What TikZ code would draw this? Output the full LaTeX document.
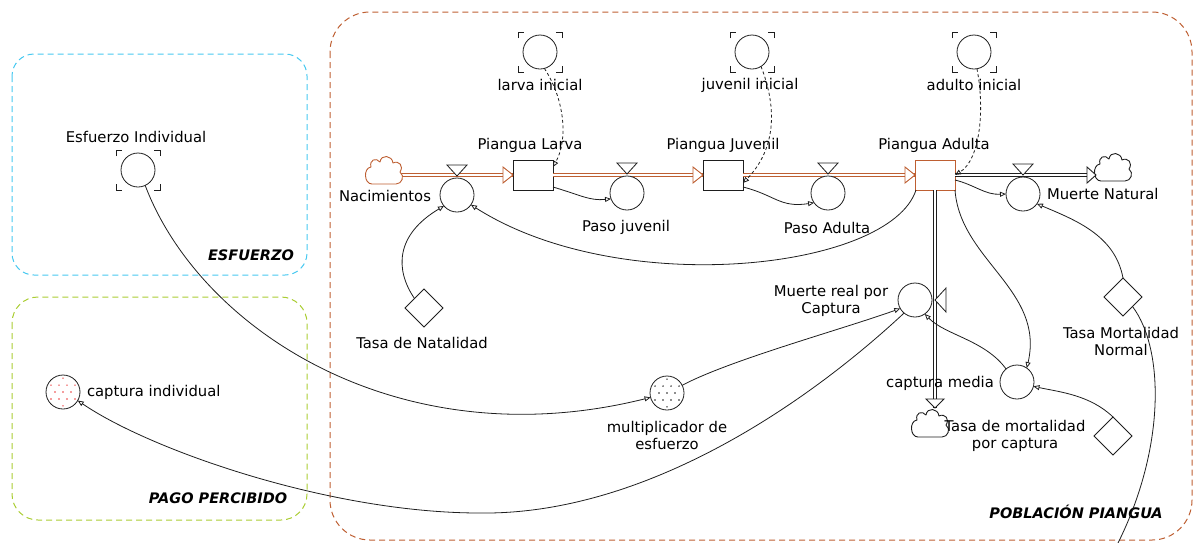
\documentclass[tikz,border=0pt]{standalone}
\usepackage{fontspec}
\setmainfont{DejaVu Sans}
\usetikzlibrary{arrows.meta,shapes.geometric,calc}
\definecolor{pipebrown}{RGB}{190,95,50}
\definecolor{groupcyan}{RGB}{70,200,240}
\definecolor{groupgreen}{RGB}{170,205,50}
\definecolor{dotred}{RGB}{235,60,60}
\definecolor{linegray}{RGB}{30,30,30}

% corner marks around a ghost variable
\newcommand\ghostmarks[1]{%
  \foreach \sx/\sy in {-1/-1,1/-1,-1/1,1/1}{%
    \draw[ghostmark] ($(#1)+(\sx*22,\sy*14)$) -- ($(#1)+(\sx*22,\sy*20)$) -- ($(#1)+(\sx*16,\sy*20)$);
  }}
% dotted fill inside a converter circle
\newcommand\speckle[3]{%
  \begin{scope}
    \clip (#1) circle (15);
    \foreach \i in {-4,...,4}{\foreach \j in {-3,...,3}{%
      \fill[#2] ($(#1)+(\i*#3+\j*#3/2,\j*#3*0.87)$) circle (0.8);
    }}
  \end{scope}}
% outline of a source/sink cloud around a named node
\newcommand\cloudoutline[2]{%
  \draw[#2, shift={(#1)}, line width=0.9pt, fill=white, line join=round]
    (-12,13) -- (12,13)
    .. controls (18,13) and (21,5) .. (16,1)
    .. controls (20,-5) and (15,-11) .. (9,-8)
    .. controls (8,-16) and (-3,-17) .. (-4,-9)
    .. controls (-8,-14) and (-15,-11) .. (-13,-4)
    .. controls (-21,-3) and (-20,13) .. (-12,13) -- cycle;}

\begin{document}
\begin{tikzpicture}[x=1pt,y=-1pt,
  font=\fontsize{14.8}{17}\selectfont,
  every node/.style={inner sep=0pt, outer sep=0pt},
  conv/.style={circle, draw=linegray, line width=0.8pt, minimum size=34pt, fill=white},
  stockbox/.style={rectangle, draw=linegray, line width=0.9pt, minimum width=40pt, minimum height=30pt, fill=white},
  param/.style={diamond, draw=linegray, line width=0.8pt, aspect=1, minimum width=38pt, minimum height=38pt, fill=white},
  cloudspot/.style={rectangle, minimum width=38pt, minimum height=28pt},
  pipe/.style={draw=#1, double=white, double distance=2.6pt, line width=0.9pt},
  flowhead/.style={draw=#1, fill=white, line width=0.9pt, line join=miter},
  valvetri/.style={draw=linegray, fill=white, line width=0.8pt},
  link/.style={draw=linegray, line width=0.8pt, -{Triangle[open, length=6pt, width=5pt]}},
  initlink/.style={link, dash pattern=on 3pt off 2.5pt},
  ghostmark/.style={draw=linegray, line width=0.9pt},
  group/.style={rounded corners=#1, dash pattern=on 6pt off 4pt, line width=1pt},
  grouplabel/.style={font=\fontsize{14.5}{17}\selectfont\bfseries\itshape},
  lbl/.style={align=center}
]
\useasboundingbox (0,0) rectangle (1198,542);

% sectors
\draw[group=22pt, draw=groupcyan] (12,54) rectangle (307,275);
\draw[group=26pt, draw=groupgreen] (12,297) rectangle (307,520);
\draw[group=40pt, draw=pipebrown] (330,12) rectangle (1192,540);
\node[grouplabel] (gEsf) at (251,255) {ESFUERZO};
\node[grouplabel] (gPago) at (218,498) {PAGO PERCIBIDO};
\node[grouplabel] (gPob) at (1076,512) {POBLACIÓN PIANGUA};

% stocks
\node[stockbox] (larva) at (533,175) {};
\node[stockbox] (juvenil) at (723,175) {};
\node[stockbox, draw=pipebrown] (adulta) at (935,175) {};

% sources and sinks
\node[cloudspot] (srcNac) at (384,171) {};
\node[cloudspot] (sinkNat) at (1113,168) {};
\node[cloudspot] (sinkCap) at (930,424) {};

% flows
\draw[pipe=pipebrown] ($(srcNac.east |- larva.west)+(-3,0)$) -- (larva.west);
\draw[flowhead=pipebrown] (larva.west) -- ++(-10,-8) -- ++(0,16) -- cycle;
\draw[pipe=pipebrown] (larva.east) -- (juvenil.west);
\draw[flowhead=pipebrown] (juvenil.west) -- ++(-10,-8) -- ++(0,16) -- cycle;
\draw[pipe=pipebrown] (juvenil.east) -- (adulta.west);
\draw[flowhead=pipebrown] (adulta.west) -- ++(-10,-8) -- ++(0,16) -- cycle;
\draw[pipe=linegray] (adulta.east) -- ($(sinkNat.west |- adulta.east)+(2,0)$);
\draw[pipe=linegray] (adulta.south) -- ($(adulta.south |- sinkCap.north)+(0,-2)$);
\cloudoutline{srcNac}{draw=pipebrown}
\cloudoutline{sinkNat}{draw=linegray}
\cloudoutline{sinkCap}{draw=linegray}
\draw[flowhead=linegray] ($(sinkNat.west |- adulta.east)+(2,0)$) -- ++(-9,-8) -- ++(0,16) -- cycle;
\draw[flowhead=linegray] ($(adulta.south |- sinkCap.north)+(0,-2)$) -- ++(-9,-9) -- ++(18,0) -- cycle;

% valves
\node[conv] (nac) at (457,195) {};
\node[conv] (pjuv) at (627,193) {};
\node[conv] (padu) at (828,193) {};
\node[conv] (mnat) at (1023,194) {};
\node[conv] (mcap) at (915,300) {};
\foreach \v in {nac,pjuv,padu,mnat}{
  \draw[valvetri] ($(\v)+(-10,-30)$) -- ($(\v)+(10,-30)$) -- ($(\v)+(0,-19)$) -- cycle;
}
\draw[valvetri] ($(mcap)+(20,0)$) -- ++(11,-12) -- ++(0,24) -- cycle;

% auxiliaries and constants
\node[conv] (cmedia) at (1017,382) {};
\node[conv] (linit) at (540,52) {};
\node[conv] (jinit) at (752,52) {};
\node[conv] (ainit) at (974,52) {};
\node[conv] (esf) at (138,170) {};
\node[conv] (capind) at (63,392) {};
\node[conv] (mult) at (667,393) {};
\node[param] (tnat) at (424,308) {};
\node[param] (tmn) at (1123,297) {};
\node[param] (tmc) at (1113,436) {};
\coordinate (tmnOut) at (1117,545);

\foreach \g in {linit,jinit,ainit,esf}{\ghostmarks{\g}}
\speckle{capind}{dotred}{8}
\speckle{mult}{linegray}{8}

% labels
\node[lbl] (tLarva) at (530,145) {Piangua Larva};
\node[lbl] (tJuv) at (723,145) {Piangua Juvenil};
\node[lbl] (tAdu) at (934,145) {Piangua Adulta};
\node[lbl] (tNac) at (385,196) {Nacimientos};
\node[lbl] (tPjuv) at (626,227) {Paso juvenil};
\node[lbl] (tPadu) at (827,228) {Paso Adulta};
\node[lbl, anchor=west] (tMnat) at (1047,194) {Muerte Natural};
\node[lbl] (tMcap) at (831,301) {Muerte real por\\Captura};
\node[lbl] (tCmedia) at (940,383) {captura media};
\node[lbl] (tTmc) at (1015,436) {Tasa de mortalidad\\por captura};
\node[lbl] (tTmn) at (1121,341) {Tasa Mortalidad\\Normal};
\node[lbl] (tTnat) at (422,343) {Tasa de Natalidad};
\node[lbl] (tLinit) at (540,85) {larva inicial};
\node[lbl] (tJinit) at (750,85) {juvenil inicial};
\node[lbl] (tAinit) at (974,85) {adulto inicial};
\node[lbl] (tEsf) at (136,137) {Esfuerzo Individual};
\node[lbl, anchor=west] (tCapind) at (87,392) {captura individual};
\node[lbl] (tMult) at (667,435) {multiplicador de\\esfuerzo};

% initial values
\draw[initlink] (linit.-75) .. controls (565,100) and (568,140) .. ($(larva.north east)+(0,7)$);
\draw[initlink] (jinit.-58) .. controls (778,110) and (775,150) .. ($(juvenil.east)+(0,8)$);
\draw[initlink] (ainit.-80) .. controls (985,110) and (980,160) .. (adulta.east);

% information links
\draw[link] ($(larva.south east)+(0,-3)$) .. controls (580,195) and (590,201) .. (pjuv.-160);
\draw[link] ($(juvenil.south east)+(0,-3)$) .. controls (775,195) and (780,208) .. (padu.-145);
\draw[link] ($(adulta.east)+(0,5)$) .. controls (975,185) and (985,195) .. (mnat.west);
\draw[link] ($(adulta.south west)+(1,0)$) .. controls (890,270) and (620,300) .. (nac.-35);
\draw[link] (tnat.north west) .. controls (395,270) and (395,235) .. (nac.-140);
\draw[link] (adulta.south east) .. controls (960,260) and (1045,290) .. (cmedia.55);
\draw[link] (cmedia.130) .. controls (985,340) and (945,335) .. (mcap.-55);
\draw[link] (tmc.north) .. controls (1090,395) and (1060,392) .. (cmedia.-15);
\draw[link] (tmn.north) .. controls (1115,235) and (1075,220) .. (mnat.-35);
\draw[draw=linegray, line width=0.8pt] (tmn.south east) .. controls (1165,350) and (1165,450) .. (tmnOut);
\draw[link] (esf.-65) .. controls (200,330) and (400,460) .. (mult.-165);
\draw[link] (mult.27) .. controls (730,360) and (840,330) .. (mcap.-150);
\draw[link] (mcap.-130) .. controls (800,410) and (640,515) .. (480,513) .. controls (330,513) and (150,450) .. (capind.-30);
\end{tikzpicture}
\end{document}
